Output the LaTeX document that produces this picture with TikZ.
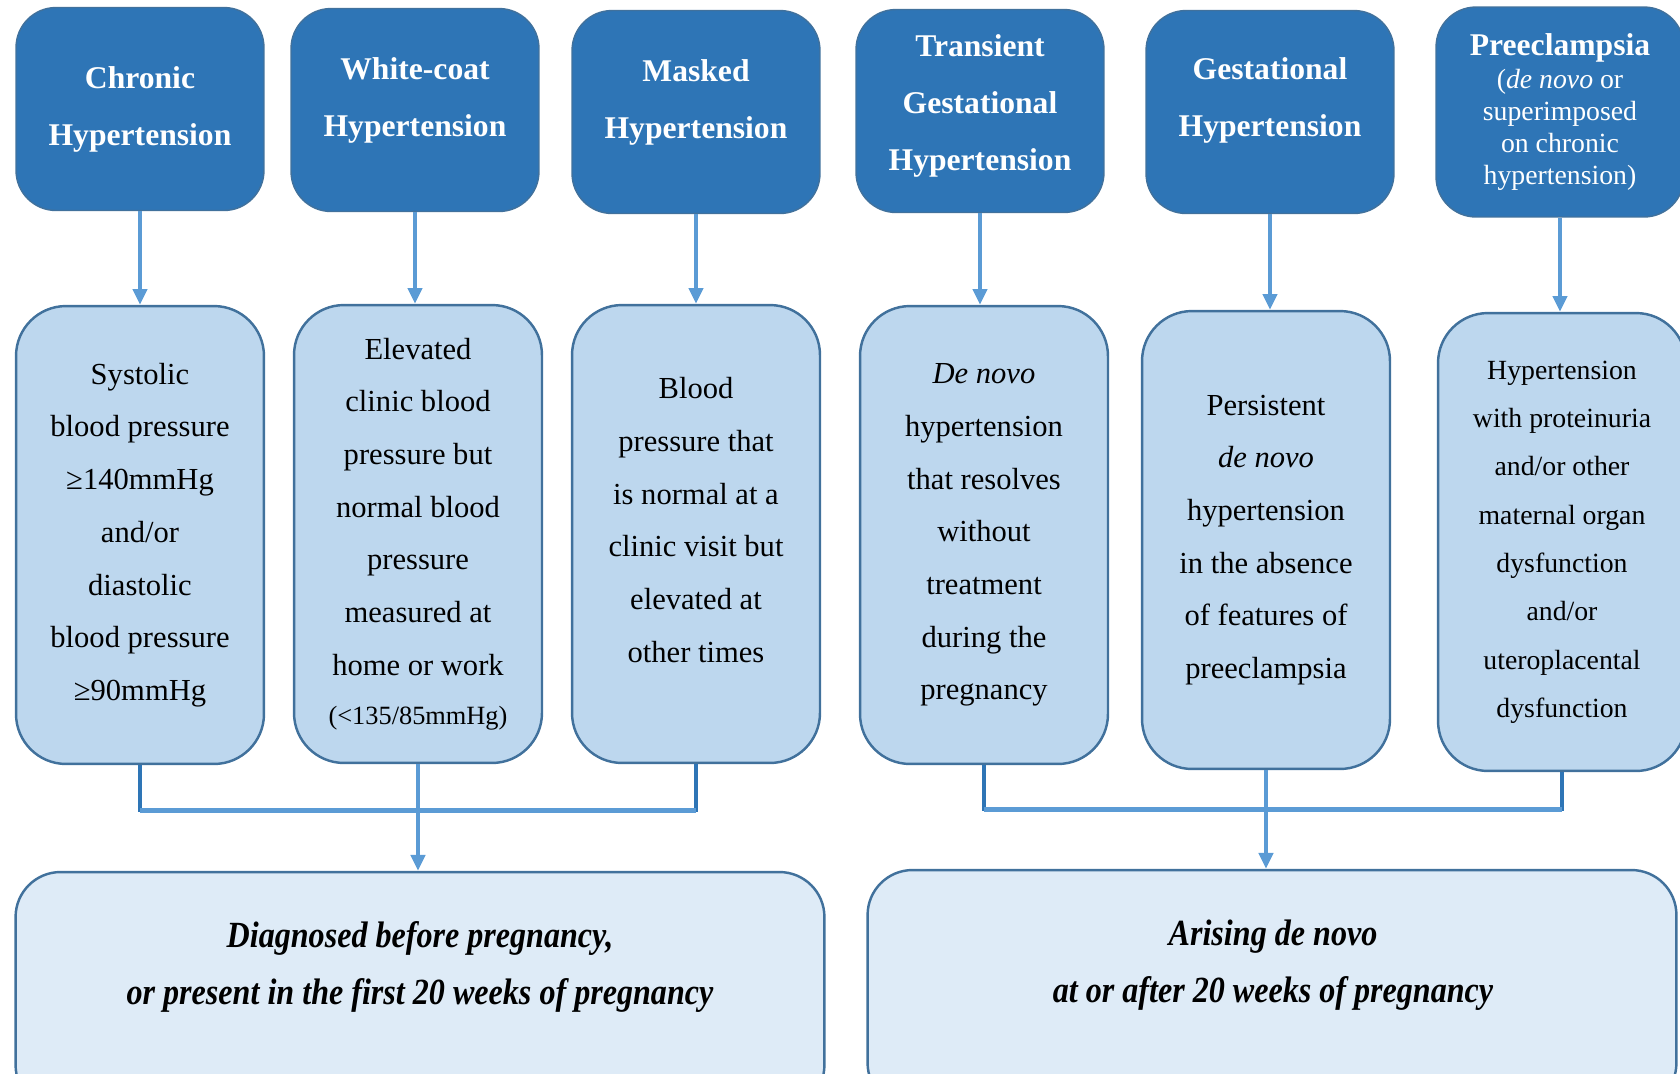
\documentclass[tikz,border=0pt]{standalone}
\usepackage{fontspec}
\setmainfont{Liberation Serif}
\newfontfamily\narrowfont[FakeStretch=0.87]{Liberation Serif}
\usetikzlibrary{arrows.meta}
\definecolor{darkbox}{HTML}{2E75B6}
\definecolor{boxline}{HTML}{41719C}
\definecolor{midbox}{HTML}{BDD7EE}
\definecolor{lowbox}{HTML}{DEEBF7}
\definecolor{arrowblue}{HTML}{5B9BD5}

\begin{document}
\begin{tikzpicture}[x=0.02cm,y=-0.02cm]
		\tikzstyle{every node}+=[inner sep=0pt, align=center]
		\tikzstyle{typebox}=[draw=boxline, fill=darkbox, line width=0.8pt, rounded corners=0.8cm, minimum width=4.96cm, minimum height=4.06cm, text=white, font=\fontsize{18}{32.4}\selectfont\bfseries]
		\tikzstyle{defbox}=[draw=boxline, fill=midbox, line width=1.4pt, rounded corners=1cm, minimum width=4.96cm, minimum height=9.16cm, font=\fontsize{17.4}{30}\selectfont]
		\tikzstyle{onsetbox}=[draw=boxline, fill=lowbox, line width=1.4pt, rounded corners=0.9cm, minimum width=16.18cm, minimum height=4.76cm]
		\tikzstyle{onsettext}=[font=\narrowfont\fontsize{21}{32.4}\selectfont\bfseries\itshape]
		\tikzstyle{arr}=[arrowblue, line width=2.2pt, -{Triangle[width=8pt,length=9pt]}]
		\tikzstyle{bracket}=[darkbox, line width=2pt]
		\tikzstyle{crossbar}=[arrowblue, line width=2.8pt]
		\clip (0,0) rectangle (1680,1073);
		% types of hypertension
		\node [typebox] (t1) at (140,109) {Chronic\\Hypertension};
		\node [typebox, text depth=15pt] (t2) at (415,110) {White-coat\\Hypertension};
		\node [typebox, text depth=15pt] (t3) at (696,112) {Masked\\Hypertension};
		\node [typebox, text depth=10pt] (t4) at (980,111) {Transient\\Gestational\\Hypertension};
		\node [typebox, text depth=17pt] (t5) at (1270,112) {Gestational\\Hypertension};
		\node [typebox, minimum height=4.2cm, font=\fontsize{15.8}{18.2}\selectfont] (t6) at (1560,112) {{\fontsize{18}{20}\selectfont\bfseries Preeclampsia}\\[1pt]
			(\textit{de novo} or\\superimposed\\on chronic\\hypertension)};
		% definitions
		\node [defbox] (m1) at (140,535) {Systolic\\blood pressure\\≥140mmHg\\and/or\\diastolic\\blood pressure\\≥90mmHg};
		\node [defbox] (m2) at (418,534) {Elevated\\clinic blood\\pressure but\\normal blood\\pressure\\measured at\\home or work\\[-2pt]\fontsize{15}{27}\selectfont(<135/85mmHg)};
		\node [defbox, text depth=16pt] (m3) at (696,534) {Blood\\pressure that\\is normal at a\\clinic visit but\\elevated at\\other times};
		\node [defbox] (m4) at (984,535) {\textit{De novo}\\hypertension\\that resolves\\without\\treatment\\during the\\pregnancy};
		\node [defbox] (m5) at (1266,540) {Persistent\\\textit{de novo}\\hypertension\\in the absence\\of features of\\preeclampsia};
		\node [defbox, font=\fontsize{15.8}{27.5}\selectfont] (m6) at (1562,542) {Hypertension\\with proteinuria\\and/or other\\maternal organ\\dysfunction\\and/or\\uteroplacental\\dysfunction};
		% onset
		\node [onsetbox] (b1) at (420,991) {};
		\node [onsetbox] (b2) at (1272,989) {};
		\node [onsettext] (b1text) at (420,967) {Diagnosed before pregnancy,\\or present in the first 20 weeks of pregnancy};
		\node [onsettext] (b2text) at (1273,965) {Arising de novo\\at or after 20 weeks of pregnancy};
		% arrows
		\draw [arr] (t1.south) -- (t1.south |- m1.north);
		\draw [arr] (t2.south) -- (t2.south |- m2.north);
		\draw [arr] (t3.south) -- (t3.south |- m3.north);
		\draw [arr] (t4.south) -- (t4.south |- m4.north);
		\draw [arr] (t5.south) -- (t5.south |- m5.north);
		\draw [arr] (t6.south) -- (t6.south |- m6.north);
		\draw [bracket] (m1.south) -- ++(0,45) coordinate (lbar) -| (m3.south);
		\draw [bracket] (m4.south) -- ++(0,44) coordinate (rbar) -| (m6.south);
		\draw [crossbar] (lbar) -- (lbar -| m3.south);
		\draw [crossbar] (rbar) -- (rbar -| m6.south);
		\draw [arr] (m2.south) -- (m2.south |- b1.north);
		\draw [arr] (m5.south) -- (m5.south |- b2.north);
	\end{tikzpicture}
\end{document}
